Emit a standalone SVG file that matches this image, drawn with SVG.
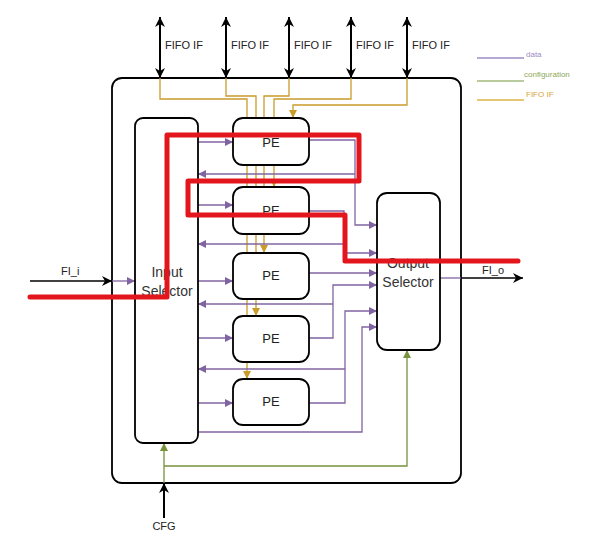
<svg xmlns="http://www.w3.org/2000/svg" width="592" height="555" viewBox="0 0 592 555">
<style>
.box{fill:#fff;stroke:#000;stroke-width:1.8}
.d{fill:none;stroke:#8064a2;stroke-width:1.3}
.g{fill:none;stroke:#c99b2a;stroke-width:1.3}
.c{fill:none;stroke:#77933c;stroke-width:1.3}
.k{fill:none;stroke:#000;stroke-width:2}
.t{font-family:"Liberation Sans",Arial,sans-serif;fill:#222}
.lbl{font-size:11px}
.pe{font-size:13px;text-anchor:middle}
.sel{font-size:14px;text-anchor:middle;fill:#333}
.red{fill:none;stroke:#e3161d;stroke-width:5;stroke-linejoin:round;stroke-linecap:round}
</style>
<defs>
<marker id="ap" viewBox="0 0 10 10" refX="10" refY="5" markerWidth="9" markerHeight="8" markerUnits="userSpaceOnUse" orient="auto-start-reverse"><path d="M0,0 L10,5 L0,10 z" fill="#8064a2"/></marker>
<marker id="ag" viewBox="0 0 10 10" refX="10" refY="5" markerWidth="9" markerHeight="8" markerUnits="userSpaceOnUse" orient="auto-start-reverse"><path d="M0,0 L10,5 L0,10 z" fill="#c99b2a"/></marker>
<marker id="ac" viewBox="0 0 10 10" refX="10" refY="5" markerWidth="9" markerHeight="8" markerUnits="userSpaceOnUse" orient="auto-start-reverse"><path d="M0,0 L10,5 L0,10 z" fill="#77933c"/></marker>
<marker id="ak" viewBox="0 0 10 10" refX="10" refY="5" markerWidth="12" markerHeight="10" markerUnits="userSpaceOnUse" orient="auto-start-reverse"><path d="M0,0 L10,5 L0,10 L3,5 z" fill="#000"/></marker>
</defs>
<rect width="592" height="555" fill="#fff"/>

<g id="outer"><rect class="box" x="112" y="78" width="349" height="405" rx="10"/></g>

<g id="connectors">
<!-- FIFO IF gold lines -->
<path class="g" d="M160,78 V99 H247 V379" marker-end="url(#ag)"/>
<path class="g" d="M226,78 V96 H256 V316" marker-end="url(#ag)"/>
<path class="g" d="M289,78 V96 H264 V253" marker-end="url(#ag)"/>
<path class="g" d="M351,78 V99 H274 V187" marker-end="url(#ag)"/>
<path class="g" d="M407,78 V105 H293 V118" marker-end="url(#ag)"/>
<!-- data -->
<path class="d" d="M112,281 H135" marker-end="url(#ap)"/>
<path class="d" d="M198,142 H233" marker-end="url(#ap)"/>
<path class="d" d="M198,205 H233" marker-end="url(#ap)"/>
<path class="d" d="M198,281 H233" marker-end="url(#ap)"/>
<path class="d" d="M198,338 H233" marker-end="url(#ap)"/>
<path class="d" d="M198,403 H233" marker-end="url(#ap)"/>
<path class="d" d="M355,174 H198" marker-end="url(#ap)"/>
<path class="d" d="M344,244 H198" marker-end="url(#ap)"/>
<path class="d" d="M333,304 H198" marker-end="url(#ap)"/>
<path class="d" d="M345,369 H198" marker-end="url(#ap)"/>
<path class="d" d="M309,140 H355 V225 H377" marker-end="url(#ap)"/>
<path class="d" d="M309,211 H344 V253 H377" marker-end="url(#ap)"/>
<path class="d" d="M309,273 H377" marker-end="url(#ap)"/>
<path class="d" d="M309,338 H333 V285 H377" marker-end="url(#ap)"/>
<path class="d" d="M309,403 H345 V311 H377" marker-end="url(#ap)"/>
<path class="d" d="M198,432 H362 V327 H377" marker-end="url(#ap)"/>
<path class="d" d="M440,278 H461"/>
<!-- configuration -->
<path class="c" d="M164,483 V443" marker-end="url(#ac)"/>
<path class="c" d="M164,466 H407 V350" marker-end="url(#ac)"/>
<!-- external black -->
<path class="k" d="M160,17 V78" marker-start="url(#ak)" marker-end="url(#ak)"/>
<path class="k" d="M226,17 V78" marker-start="url(#ak)" marker-end="url(#ak)"/>
<path class="k" d="M289,17 V78" marker-start="url(#ak)" marker-end="url(#ak)"/>
<path class="k" d="M351,17 V78" marker-start="url(#ak)" marker-end="url(#ak)"/>
<path class="k" d="M407,17 V78" marker-start="url(#ak)" marker-end="url(#ak)"/>
<path class="k" d="M30,281 H112" marker-end="url(#ak)" style="stroke-width:1.6"/>
<path class="k" d="M461,278 H523" marker-end="url(#ak)" style="stroke-width:1.6"/>
<path class="k" d="M164,518 V483" marker-end="url(#ak)"/>
</g>

<g id="input-selector"><rect class="box" x="135" y="118" width="63" height="325" rx="8"/>
<text class="t sel" x="167" y="277">Input</text><text class="t sel" x="167" y="296">Selector</text></g>
<g id="output-selector"><rect class="box" x="377" y="193" width="63" height="157" rx="10"/>
<text class="t sel" x="408" y="268">Output</text><text class="t sel" x="408" y="287">Selector</text></g>
<g id="pe1"><rect class="box" x="233" y="118" width="76" height="47" rx="10"/><text class="t pe" x="271" y="147">PE</text></g>
<g id="pe2"><rect class="box" x="233" y="187" width="76" height="47" rx="10"/><text class="t pe" x="271" y="215">PE</text></g>
<g id="pe3"><rect class="box" x="233" y="253" width="76" height="46" rx="10"/><text class="t pe" x="271" y="280">PE</text></g>
<g id="pe4"><rect class="box" x="233" y="316" width="76" height="46" rx="10"/><text class="t pe" x="271" y="343">PE</text></g>
<g id="pe5"><rect class="box" x="233" y="379" width="76" height="46" rx="10"/><text class="t pe" x="271" y="406">PE</text></g>

<g id="labels" class="t lbl">
<text x="165" y="49">FIFO IF</text>
<text x="231" y="49">FIFO IF</text>
<text x="294" y="49">FIFO IF</text>
<text x="356" y="49">FIFO IF</text>
<text x="412" y="49">FIFO IF</text>
<text x="61" y="275">FI_i</text>
<text x="482" y="274">FI_o</text>
<text x="164" y="530" text-anchor="middle">CFG</text>
</g>

<g id="legend" font-family="Liberation Sans, Arial, sans-serif" font-size="8">
<line x1="477" y1="58" x2="524" y2="58" stroke="#9e8cc4" stroke-width="1.5"/>
<line x1="477" y1="81" x2="524" y2="81" stroke="#a3bb7c" stroke-width="1.5"/>
<line x1="477" y1="100" x2="524" y2="100" stroke="#dcb54a" stroke-width="1.5"/>
<text x="526" y="57" fill="#9e8cc4">data</text>
<text x="524" y="77" fill="#8ea85a">configuration</text>
<text x="526" y="97" fill="#d4a43a">FIFO IF</text>
</g>

<g id="red-overlay"><polyline class="red" points="30,297 167,297 167,135 359,135 359,181 188,181 188,215 345,215 345,261 518,261"/></g>
</svg>
